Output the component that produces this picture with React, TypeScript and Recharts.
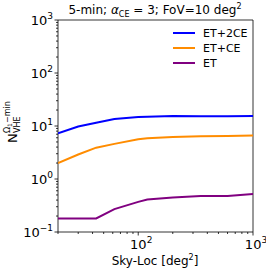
import { Line, LineChart, ReferenceArea, XAxis, YAxis } from "recharts";

const skyLoc = [20, 30, 43, 62, 100, 120, 200, 350, 600, 1000];
const et2ce = [7.3, 9.8, 11.5, 13.5, 14.8, 15.0, 15.5, 15.3, 15.3, 15.5];
const etce = [2.0, 2.9, 3.9, 4.6, 5.6, 5.9, 6.2, 6.4, 6.5, 6.6];
const et = [0.18, 0.18, 0.18, 0.27, 0.37, 0.41, 0.45, 0.48, 0.48, 0.52];

const xTicks = [20, 30, 40, 50, 60, 70, 80, 90, 100, 200, 300, 400, 500, 600, 700, 800, 900, 1000];
const yTicks = [
  0.1, 0.2, 0.3, 0.4, 0.5, 0.6, 0.7, 0.8, 0.9,
  1, 2, 3, 4, 5, 6, 7, 8, 9,
  10, 20, 30, 40, 50, 60, 70, 80, 90,
  100, 200, 300, 400, 500, 600, 700, 800, 900, 1000,
];

const series = [
  { key: "et2ce", name: "ET+2CE", color: "#0000ff" },
  { key: "etce", name: "ET+CE", color: "#ff8c00" },
  { key: "et", name: "ET", color: "#800080" },
];

const data = skyLoc.map((s, i) => ({ s, et2ce: et2ce[i], etce: etce[i], et: et[i] }));

const font = "DejaVu Sans, sans-serif";

function expOf(v: number) {
  const e = Math.log10(v);
  return Math.abs(e - Math.round(e)) < 1e-6 ? Math.round(e) : null;
}

function expText(e: number) {
  return e < 0 ? `\u2212${-e}` : `${e}`;
}

function YTick({ x, y, payload }: any) {
  const e = expOf(payload.value);
  return (
    <g>
      <line x1={x} x2={x - (e !== null ? 3.5 : 2)} y1={y} y2={y} stroke="#000" strokeWidth={0.8} />
      {e !== null && (
        <text x={x - 5} y={y + 4.5} textAnchor="end" fontSize={13} fontFamily={font} fill="#000">
          10<tspan dy={-6} fontSize={9}>{expText(e)}</tspan>
        </text>
      )}
    </g>
  );
}

function XTick({ x, y, payload }: any) {
  const e = expOf(payload.value);
  return (
    <g>
      <line x1={x} x2={x} y1={y} y2={y + (e !== null ? 3.5 : 2)} stroke="#000" strokeWidth={0.8} />
      {e !== null && (
        <text x={x + 3} y={y + 17} textAnchor="middle" fontSize={13} fontFamily={font} fill="#000">
          10<tspan dy={-6} fontSize={9}>{expText(e)}</tspan>
        </text>
      )}
    </g>
  );
}

export default function App() {
  return (
    <div style={{ position: "relative", width: 266, height: 273, background: "#fff" }}>
      <style>{`body{margin:0}`}</style>
      <LineChart width={266} height={273} data={data} margin={{ top: 20, right: 13, left: 8, bottom: 11 }}>
        <XAxis
          dataKey="s"
          type="number"
          scale="log"
          domain={[20, 1000]}
          ticks={xTicks}
          interval={0}
          allowDataOverflow
          axisLine={false}
          tickLine={false}
          tickSize={0}
          tickMargin={0}
          tick={<XTick />}
          height={30}
        />
        <YAxis
          type="number"
          scale="log"
          domain={[0.1, 1000]}
          ticks={yTicks}
          interval={0}
          allowDataOverflow
          axisLine={false}
          tickLine={false}
          tickSize={0}
          tickMargin={0}
          tick={<YTick />}
          width={50}
        />
        {series.map((s) => (
          <Line
            key={s.key}
            type="linear"
            dataKey={s.key}
            stroke={s.color}
            strokeWidth={2}
            dot={false}
            isAnimationActive={false}
          />
        ))}
        <ReferenceArea x1={20} x2={1000} y1={0.1} y2={1000} fill="none" stroke="#000" strokeWidth={0.8} ifOverflow="visible" />
      </LineChart>
      <svg
        width={266}
        height={273}
        style={{ position: "absolute", left: 0, top: 0, pointerEvents: "none" }}
        fontFamily={font}
      >
        <text x={155} y={14} textAnchor="middle" fontSize={12}>
          5-min; <tspan fontStyle="italic">α</tspan>
          <tspan dy={3} fontSize={8}>CE</tspan>
          <tspan dy={-3}> = 3; FoV=10 deg</tspan>
          <tspan dy={-5} fontSize={8}>2</tspan>
        </text>
        <text x={155} y={265} textAnchor="middle" fontSize={12}>
          Sky-Loc [deg<tspan dy={-5} fontSize={8}>2</tspan>
          <tspan dy={5}>]</tspan>
        </text>
        <g transform="translate(17,129) rotate(-90)">
          <text x={-14} y={0} fontSize={13}>N</text>
          <text x={-4} y={3} fontSize={8}>VHE</text>
          <text x={-4} y={-7} fontSize={8}>
            Ω<tspan dy={2} fontSize={6}>1</tspan>
            <tspan dy={-2}>−min</tspan>
          </text>
        </g>
        {series.map((s, i) => (
          <g key={s.key}>
            <line x1={173} x2={195} y1={33 + i * 15} y2={33 + i * 15} stroke={s.color} strokeWidth={2} />
            <text x={203} y={37 + i * 15} fontSize={11}>
              {s.name}
            </text>
          </g>
        ))}
      </svg>
    </div>
  );
}
